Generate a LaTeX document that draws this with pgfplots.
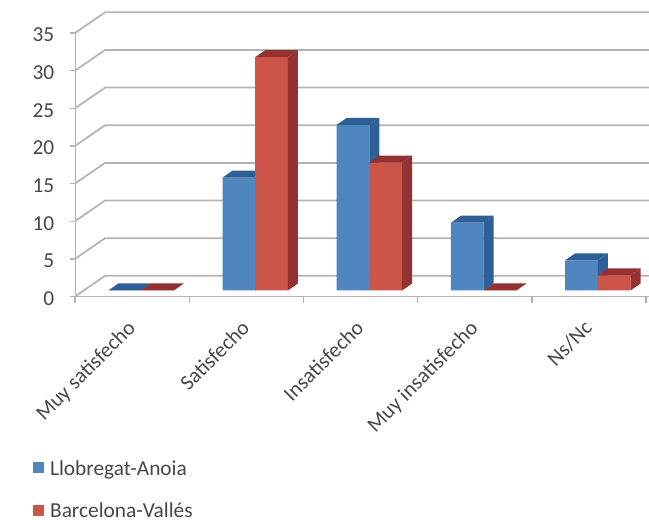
\documentclass[border=0pt]{standalone}
\usepackage{fontspec}
\setmainfont{Carlito}
\usepackage{pgfplots}
\usepackage{pgfplotstable}
\pgfplotsset{compat=1.18}

\definecolor{bluefront}{HTML}{4F86C0}
\definecolor{bluedark}{HTML}{2F5F97}
\definecolor{redfront}{HTML}{CC5449}
\definecolor{reddark}{HTML}{933231}
\definecolor{gridgray}{HTML}{B4B4B4}
\definecolor{txt}{HTML}{474747}

\pgfplotstableread{
pos  blue red
0    0    0
1    15   31
2    22   17
3    9    0
4    4    2
}\votes

% top and side face of one bar: left edge, value, colour
\newcommand{\barfaces}[3]{%
  \pgfmathsetmacro{\xr}{#1+0.2863}%
  \pgfmathsetmacro{\xlb}{#1+0.0876}%
  \pgfmathsetmacro{\xrb}{#1+0.2863+0.0876}%
  \pgfmathsetmacro{\yb}{#2+0.93}%
  \addplot[fill=#3,draw=none,forget plot] coordinates {(#1,#2) (\xr,#2) (\xrb,\yb) (\xlb,\yb)} --cycle;
  \addplot[fill=#3,draw=none,forget plot] coordinates {(\xr,0) (\xrb,0.93) (\xrb,\yb) (\xr,#2)} --cycle;
}

\begin{document}
\begin{tikzpicture}
\path[use as bounding box] (0,0) rectangle (486.75pt,389.25pt);
\begin{axis}[
    at={(56.25pt,166.875pt)},
    anchor=south west,
    scale only axis,
    width=430.5pt,
    height=213.4pt,
    xmin=-0.578, xmax=4.448,
    ymin=-0.8, ymax=37,
    axis x line=bottom,
    axis y line=left,
    axis line style={draw=gridgray,line width=1pt,-},
    y axis line style={draw=none},
    xtick={0,1,2,3,4},
    xticklabels={Muy satisfecho,Satisfecho,Insatisfecho,Muy insatisfecho,Ns/Nc},
    minor xtick={-0.578,0.422,1.422,2.422,3.422,4.422},
    ytick={-0.8,4.2,9.2,14.2,19.2,24.2,29.2,34.2},
    yticklabels={0,5,10,15,20,25,30,35},
    tick align=outside,
    tick style={draw=gridgray,line width=1pt},
    major x tick style={draw=none},
    major tick length=4pt,
    minor tick length=4.5pt,
    tick label style={font=\fontsize{16}{18}\selectfont,text=txt},
    x tick label style={rotate=45,anchor=north east,xshift=-13.6pt,yshift=2.3pt},
    y tick label style={xshift=-8pt,yshift=-1.5pt},
    legend style={
        at={(-0.0728,-0.5755)},anchor=north west,draw=none,fill=none,
        font=\fontsize{16}{18}\selectfont,text=txt,row sep=19pt,
        inner sep=0pt,
        nodes={inner xsep=1pt,inner ysep=0pt},
    },
    legend cell align=left,
]
% side wall and back wall
\addplot[draw=gridgray,line width=1.3pt,forget plot] coordinates {(-0.578,-0.8) (-0.315,1.95) (4.448,1.95)};
\addplot[draw=gridgray,line width=1.3pt,forget plot] coordinates {(-0.578,4.2) (-0.315,6.95) (4.448,6.95)};
\addplot[draw=gridgray,line width=1.3pt,forget plot] coordinates {(-0.578,9.2) (-0.315,11.95) (4.448,11.95)};
\addplot[draw=gridgray,line width=1.3pt,forget plot] coordinates {(-0.578,14.2) (-0.315,16.95) (4.448,16.95)};
\addplot[draw=gridgray,line width=1.3pt,forget plot] coordinates {(-0.578,19.2) (-0.315,21.95) (4.448,21.95)};
\addplot[draw=gridgray,line width=1.3pt,forget plot] coordinates {(-0.578,24.2) (-0.315,26.95) (4.448,26.95)};
\addplot[draw=gridgray,line width=1.3pt,forget plot] coordinates {(-0.578,29.2) (-0.315,31.95) (4.448,31.95)};
\addplot[draw=gridgray,line width=1.3pt,forget plot] coordinates {(-0.578,34.2) (-0.315,36.95) (4.448,36.95)};
\addplot[draw=gridgray,line width=1pt,forget plot] coordinates {(-0.578,-0.8) (-0.578,34.2)};

% blue series
\addplot[ybar,bar width=0.2863,bar shift=-0.1432,fill=bluefront,draw=none,
    legend image code/.code={\fill[bluefront] (0pt,-3.4pt) rectangle (8.25pt,4.9pt); \path (11.5pt,0pt);}]
    table[x=pos,y=blue] {\votes};
\addlegendentry{Llobregat-Anoia}
\barfaces{-0.2863}{0}{bluedark}
\barfaces{0.7137}{15}{bluedark}
\barfaces{1.7137}{22}{bluedark}
\barfaces{2.7137}{9}{bluedark}
\barfaces{3.7137}{4}{bluedark}

% red series
\addplot[ybar,bar width=0.2863,bar shift=0.1432,fill=redfront,draw=none,
    legend image code/.code={\fill[redfront] (0pt,-3.4pt) rectangle (8.25pt,4.9pt); \path (11.5pt,0pt);}]
    table[x=pos,y=red] {\votes};
\addlegendentry{Barcelona-Vallés}
\barfaces{0}{0}{reddark}
\barfaces{1}{31}{reddark}
\barfaces{2}{17}{reddark}
\barfaces{3}{0}{reddark}
\barfaces{4}{2}{reddark}
\end{axis}
\end{tikzpicture}
\end{document}
